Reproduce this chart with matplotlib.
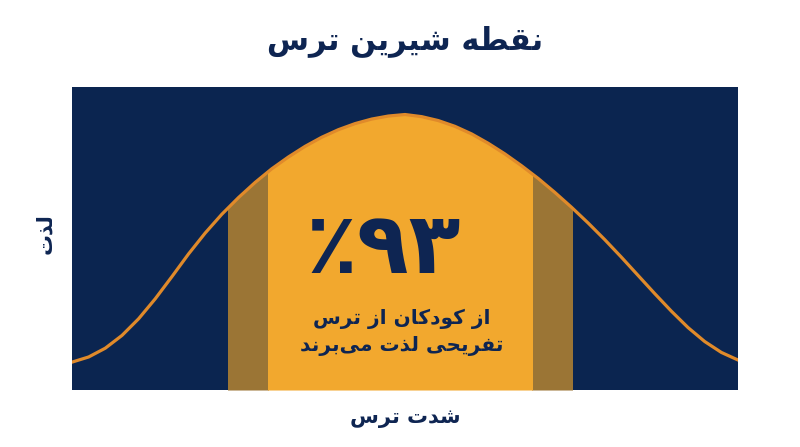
import matplotlib.pyplot as plt
from matplotlib.patches import Rectangle

# Persian letters -> (isolated, final, initial, medial) presentation forms
FORMS = {
    'ا': ('\uFE8D', '\uFE8E', None, None),
    'ب': ('\uFE8F', '\uFE90', '\uFE91', '\uFE92'),
    'ت': ('\uFE95', '\uFE96', '\uFE97', '\uFE98'),
    'ح': ('\uFEA1', '\uFEA2', '\uFEA3', '\uFEA4'),
    'د': ('\uFEA9', '\uFEAA', None, None),
    'ذ': ('\uFEAB', '\uFEAC', None, None),
    'ر': ('\uFEAD', '\uFEAE', None, None),
    'ز': ('\uFEAF', '\uFEB0', None, None),
    'س': ('\uFEB1', '\uFEB2', '\uFEB3', '\uFEB4'),
    'ش': ('\uFEB5', '\uFEB6', '\uFEB7', '\uFEB8'),
    'ط': ('\uFEC1', '\uFEC2', '\uFEC3', '\uFEC4'),
    'ف': ('\uFED1', '\uFED2', '\uFED3', '\uFED4'),
    'ق': ('\uFED5', '\uFED6', '\uFED7', '\uFED8'),
    'ل': ('\uFEDD', '\uFEDE', '\uFEDF', '\uFEE0'),
    'م': ('\uFEE1', '\uFEE2', '\uFEE3', '\uFEE4'),
    'ن': ('\uFEE5', '\uFEE6', '\uFEE7', '\uFEE8'),
    'ه': ('\uFEE9', '\uFEEA', '\uFEEB', '\uFEEC'),
    'و': ('\uFEED', '\uFEEE', None, None),
    'ی': ('\uFBFC', '\uFBFD', '\uFBFE', '\uFBFF'),
    'ک': ('\uFB8E', '\uFB8F', '\uFB90', '\uFB91'),
    'گ': ('\uFB92', '\uFB93', '\uFB94', '\uFB95'),
}


def shape(text):
    # join letters and flip to visual (left-to-right) order
    out = []
    for i, ch in enumerate(text):
        if ch not in FORMS:
            out.append(ch)
            continue
        prev = text[i - 1] if i > 0 else ''
        nxt = text[i + 1] if i + 1 < len(text) else ''
        join_prev = prev in FORMS and FORMS[prev][2] is not None
        join_next = FORMS[ch][2] is not None and nxt in FORMS
        iso, fin, ini, med = FORMS[ch]
        if join_prev and join_next:
            out.append(med)
        elif join_prev:
            out.append(fin)
        elif join_next:
            out.append(ini)
        else:
            out.append(iso)
    return ''.join(c for c in reversed(out) if c != '\u200c')


title = 'نقطه شیرین ترس'
xlabel = 'شدت ترس'
ylabel = 'لذت'
stat_value = '۹۳'
stat_lines = ['از کودکان از ترس', 'تفریحی لذت می\u200cبرند']

# fear intensity (0-100) vs pleasure (0-100)
fear = [0, 2.5, 5, 7.5, 10, 12.5, 15, 17.5, 20, 22.5, 25, 27.5, 30, 32.5, 35,
        37.5, 40, 42.5, 45, 47.5, 50, 52.5, 55, 57.5, 60, 62.5, 65, 67.5, 70,
        72.5, 75, 77.5, 80, 82.5, 85, 87.5, 90, 92.5, 95, 97.5, 100]
pleasure = [9.2, 10.9, 13.8, 18.0, 23.5, 30.1, 37.4, 44.9, 51.8, 58.0, 63.5,
            68.5, 73.0, 76.9, 80.4, 83.4, 85.9, 87.9, 89.4, 90.4, 90.9, 90.2,
            88.9, 87.0, 84.5, 81.4, 77.9, 74.0, 69.8, 65.2, 60.3, 55.1, 49.6,
            43.8, 37.8, 31.8, 26.0, 20.6, 16.0, 12.4, 9.9]

sweet_spot = (29.4, 69.1)
edge_bands = [(23.4, 29.4), (69.1, 75.1)]

navy = '#0b2550'
text_navy = '#0e2552'
orange = '#f2a82e'
olive = '#9b7535'
line_orange = '#e08a2a'

fig = plt.figure(figsize=(8, 4.47), dpi=100)
ax = fig.add_axes([0.09, 0.1275, 0.8325, 0.678])
ax.set_facecolor(navy)

areas = [(edge_bands[0], olive), (edge_bands[1], olive), (sweet_spot, orange)]
for (x0, x1), col in areas:
    poly = ax.fill_between(fear, pleasure, 0, color=col, lw=0)
    clip = Rectangle((x0, 0), x1 - x0, 100, transform=ax.transData)
    poly.set_clip_path(clip)

ax.plot(fear, pleasure, color=line_orange, lw=2.3, solid_joinstyle='round')

ax.set_xlim(0, 100)
ax.set_ylim(0, 100)
ax.set_xticks([])
ax.set_yticks([])
for s in ax.spines.values():
    s.set_visible(False)

ax.text(46.7, 46.5, '٪' + stat_value, ha='center', va='center',
        fontsize=61, fontweight='bold', color=text_navy)
ax.text(49.5, 19.0, '\n'.join(shape(l) for l in stat_lines), ha='center',
        va='center', multialignment='center', fontsize=14.5, fontweight='bold',
        color=text_navy, linespacing=1.45)

ax.set_title(shape(title), fontsize=22, fontweight='bold', color=text_navy, pad=27)
ax.set_xlabel(shape(xlabel), fontsize=15, fontweight='bold', color=text_navy, labelpad=13)
ax.set_ylabel(shape(ylabel), fontsize=15, fontweight='bold', color=text_navy)
ax.yaxis.set_label_coords(-0.025, 0.515)

fig.savefig('out.png', dpi=100, facecolor='white')
